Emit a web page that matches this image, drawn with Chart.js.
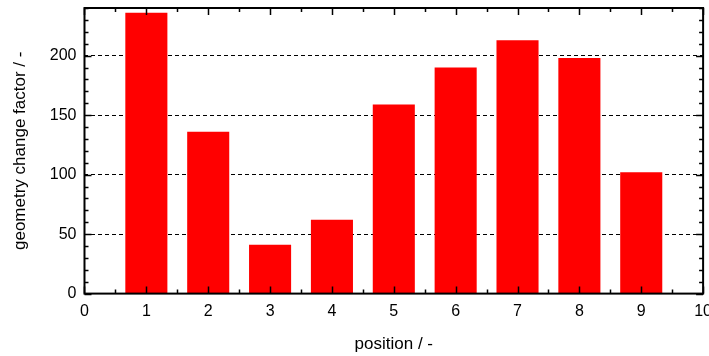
<!DOCTYPE html>
<html>
<head>
<meta charset="utf-8">
<script src="https://cdn.jsdelivr.net/npm/chart.js@4/dist/chart.umd.min.js"></script>
<style>
  html, body { margin: 0; padding: 0; background: #fff; overflow: hidden; }
  #wrap { width: 720px; height: 356px; }
</style>
</head>
<body>
<div id="wrap"><canvas id="chart" width="720" height="356"></canvas></div>
<script>
// Geometry change factor at each position
const positions = [1, 2, 3, 4, 5, 6, 7, 8, 9];
const changeFactor = [236, 136, 41, 62, 159, 190, 213, 198, 102];

// Axis ranges and tick spacing
const xRange = [0, 10];
const xMajorStep = 1;
const xMinorStep = 0.5;
const yRange = [0, 240];
const yMajorStep = 50;
const yMinorStep = 10;

const FONT = "'Liberation Sans', Arial, sans-serif";

// Closed frame with inward tick marks on all four sides
const framePlugin = {
  id: 'frame',
  afterDatasetsDraw(chart) {
    const { ctx, chartArea: a, scales: { x, y } } = chart;
    ctx.save();
    ctx.strokeStyle = '#000';
    ctx.lineWidth = 1.5;
    const major = 7, minor = 4;
    ctx.beginPath();
    for (let v = xRange[0]; v <= xRange[1] + 1e-9; v += xMinorStep) {
      const px = Math.round(x.getPixelForValue(v)) + 0.5;
      const isMajor = Math.abs(v / xMajorStep - Math.round(v / xMajorStep)) < 1e-9;
      const len = isMajor ? major : minor;
      ctx.moveTo(px, a.bottom); ctx.lineTo(px, a.bottom - len);
      ctx.moveTo(px, a.top); ctx.lineTo(px, a.top + len);
    }
    for (let v = yRange[0]; v <= yRange[1] + 1e-9; v += yMinorStep) {
      const py = Math.round(y.getPixelForValue(v)) + 0.5;
      const isMajor = v % yMajorStep === 0;
      const len = isMajor ? major : minor;
      ctx.moveTo(a.left, py); ctx.lineTo(a.left + len, py);
      ctx.moveTo(a.right, py); ctx.lineTo(a.right - len, py);
    }
    ctx.stroke();
    ctx.lineWidth = 2;
    ctx.strokeRect(a.left, a.top, a.right - a.left, a.bottom - a.top);
    ctx.restore();
  }
};

Chart.defaults.color = '#000';
Chart.defaults.font.family = FONT;

new Chart(document.getElementById('chart'), {
  type: 'bar',
  data: {
    datasets: [{
      data: positions.map((p, i) => ({ x: p, y: changeFactor[i] })),
      backgroundColor: '#ff0000',
      borderWidth: 0,
      barPercentage: 0.68,
      categoryPercentage: 1.0
    }]
  },
  options: {
    responsive: false,
    animation: false,
    layout: { padding: { left: 0, right: 10, top: 8, bottom: 0 } },
    plugins: { legend: { display: false }, tooltip: { enabled: false } },
    scales: {
      x: {
        type: 'linear',
        min: xRange[0],
        max: xRange[1],
        offset: false,
        grid: { display: false, drawTicks: false },
        border: { display: false },
        ticks: { stepSize: xMajorStep, padding: 8, font: { size: 16 }, color: '#000', maxRotation: 0, autoSkip: false },
        title: {
          display: true,
          text: 'position / -',
          font: { size: 17 },
          color: '#000',
          padding: { top: 5.2, bottom: 1.6 }
        }
      },
      y: {
        min: yRange[0],
        max: yRange[1],
        // the top tick has no label, so no room is reserved above the plot for it
        afterFit: (scale) => { scale.paddingTop = 0; },
        grid: {
          drawTicks: false,
          lineWidth: 1,
          color: (c) => (c.tick && c.tick.value > 0 && c.tick.value % yMajorStep === 0) ? '#000' : 'rgba(0,0,0,0)'
        },
        border: { display: false, dash: [4, 3] },
        ticks: {
          stepSize: yMajorStep,
          padding: 8,
          font: { size: 16 },
          color: '#000',
          autoSkip: false,
          callback: (v) => (v % yMajorStep === 0 ? String(v) : null)
        },
        title: {
          display: true,
          text: 'geometry change factor / -',
          font: { size: 17 },
          color: '#000',
          padding: { top: 9.8, bottom: 11.6 }
        }
      }
    }
  },
  plugins: [framePlugin]
});
</script>
</body>
</html>
